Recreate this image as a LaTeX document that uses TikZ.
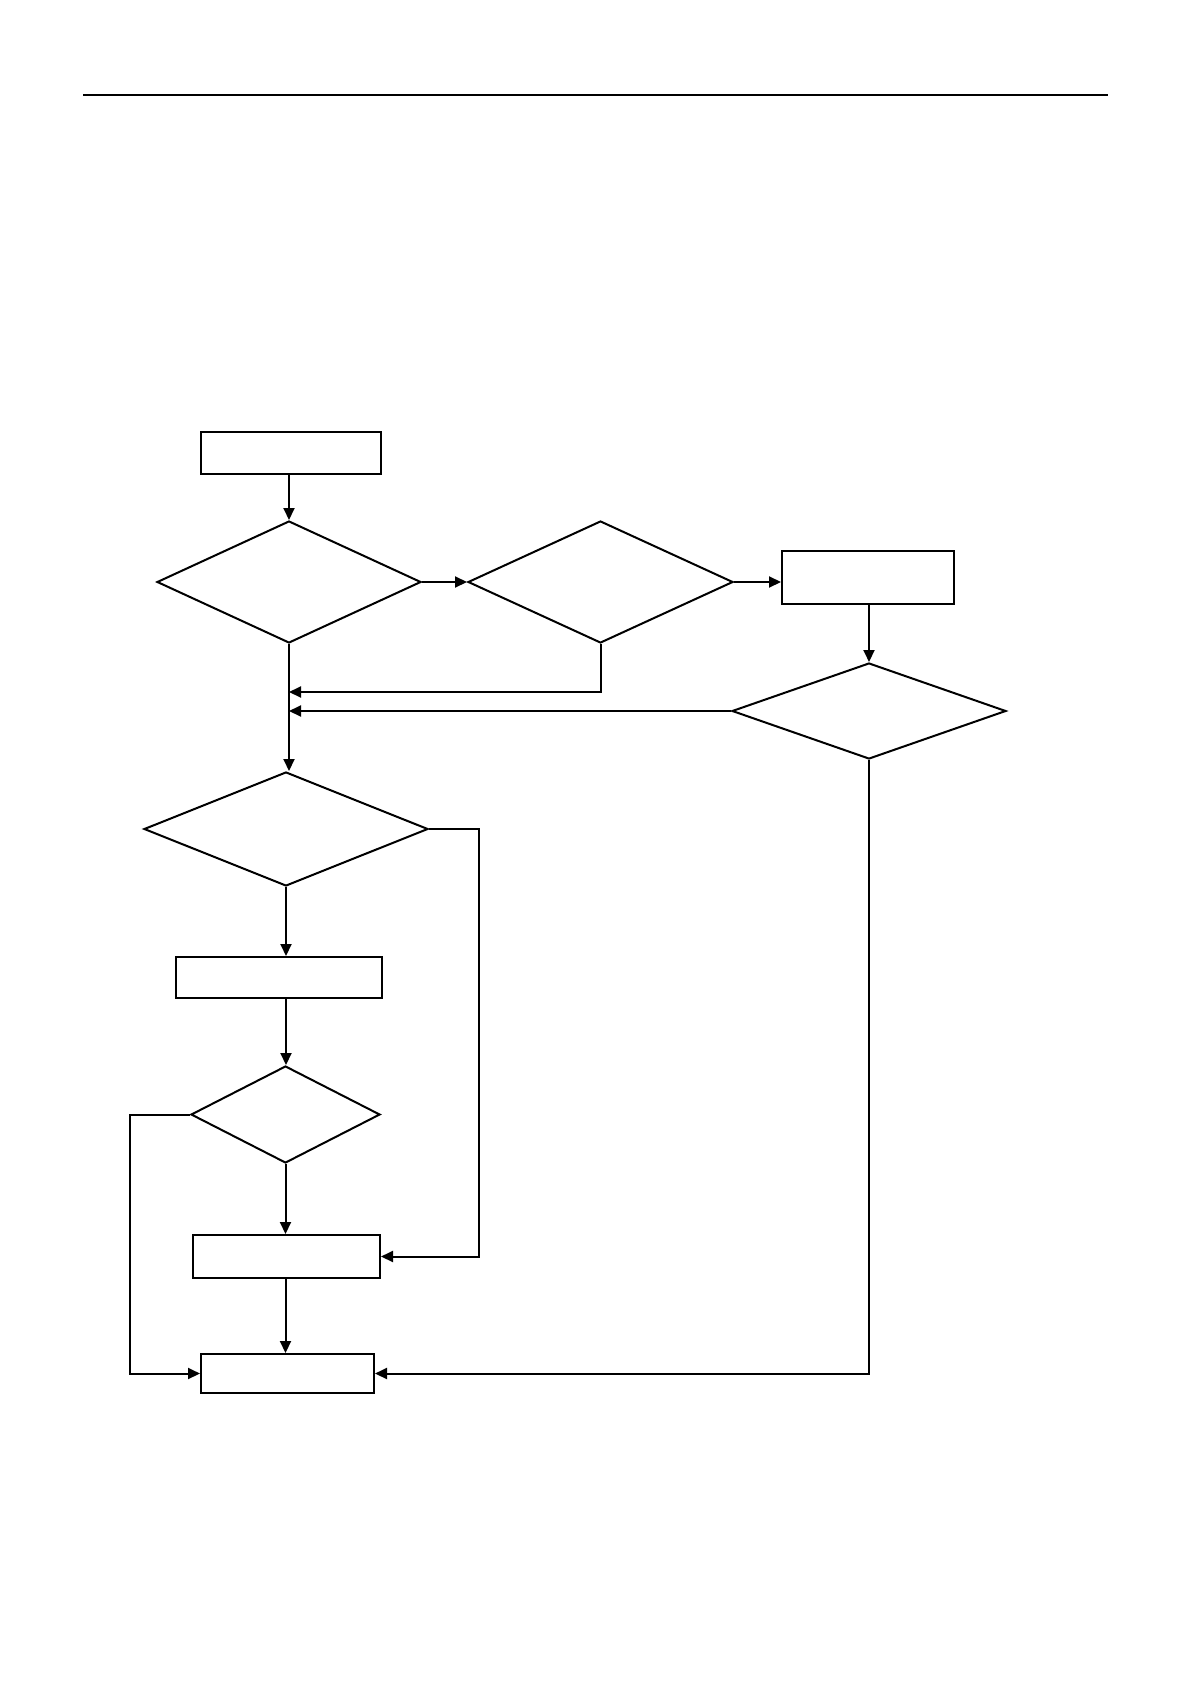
\documentclass[tikz,border=0pt]{standalone}
\usepackage{tikz}
\usetikzlibrary{arrows.meta,positioning,calc,shapes.geometric}

\begin{document}
\begin{tikzpicture}[x=0.5pt,y=-0.5pt,
  box/.style={draw, rectangle, inner sep=0pt, line width=1pt, fill=white},
  dec/.style={draw, diamond, inner sep=0pt, line width=1pt, fill=white},
  arr/.style={-{Triangle[length=6pt,width=5.5pt]}, line width=1pt}]
\useasboundingbox (0,0) rectangle (1191,1684);
% ----- header rule
\draw[line width=0.7pt] (83,95) -- (1108,95);
% ----- top row
\node[box, minimum width=90pt, minimum height=21pt] (start) at (291,453) {};
\node[dec, minimum width=132pt, minimum height=61pt] (d1) at (289,582) {};
\node[dec, minimum width=132.5pt, minimum height=61pt] (d2) at (600.5,582) {};
\node[box, minimum width=86pt, minimum height=26.5pt] (act) at (868,577.5) {};
\node[dec, minimum width=137pt, minimum height=48pt] (d3) at (869,711) {};
\draw[arr] (d1.north|-start.south) -- (d1.north);
\draw[arr] (d1.east) -- (d2.west);
\draw[arr] (d2.east) -- (d2.east-|act.west);
\draw[arr] (act.south-|d3.north) -- (d3.north);
\coordinate (j1) at (289,692);
\draw[arr] (d2.south) |- (j1);
\draw[arr] (d3.west) -- (d3.west-|d1.south);
% ----- left column
\node[dec, minimum width=142pt, minimum height=57pt] (d4) at (286,829) {};
\node[box, minimum width=103pt, minimum height=20.5pt] (proc) at (279,977.5) {};
\node[dec, minimum width=94.5pt, minimum height=48.5pt] (d5) at (285.5,1114.5) {};
\node[box, minimum width=93.5pt, minimum height=21.5pt] (upd) at (286.5,1256.5) {};
\node[box, minimum width=86.5pt, minimum height=19.5pt] (stop) at (287.5,1373.5) {};
\draw[arr] (d1.south) -- (d1.south|-d4.north);
\draw[arr] (d4.south) -- (d4.south|-proc.north);
\draw[arr] (d4.south|-proc.south) -- (d4.south|-d5.north);
\draw[arr] (d5.south) -- (d5.south|-upd.north);
\draw[arr] (d5.south|-upd.south) -- (d5.south|-stop.north);
\draw[arr] (d4.east) -- ++(50,0) |- (upd.east);
\draw[arr] (d5.west) -- ++(-60,0) |- (stop.west);
\draw[arr] (d3.south) |- (stop.east);
\end{tikzpicture}
\end{document}
